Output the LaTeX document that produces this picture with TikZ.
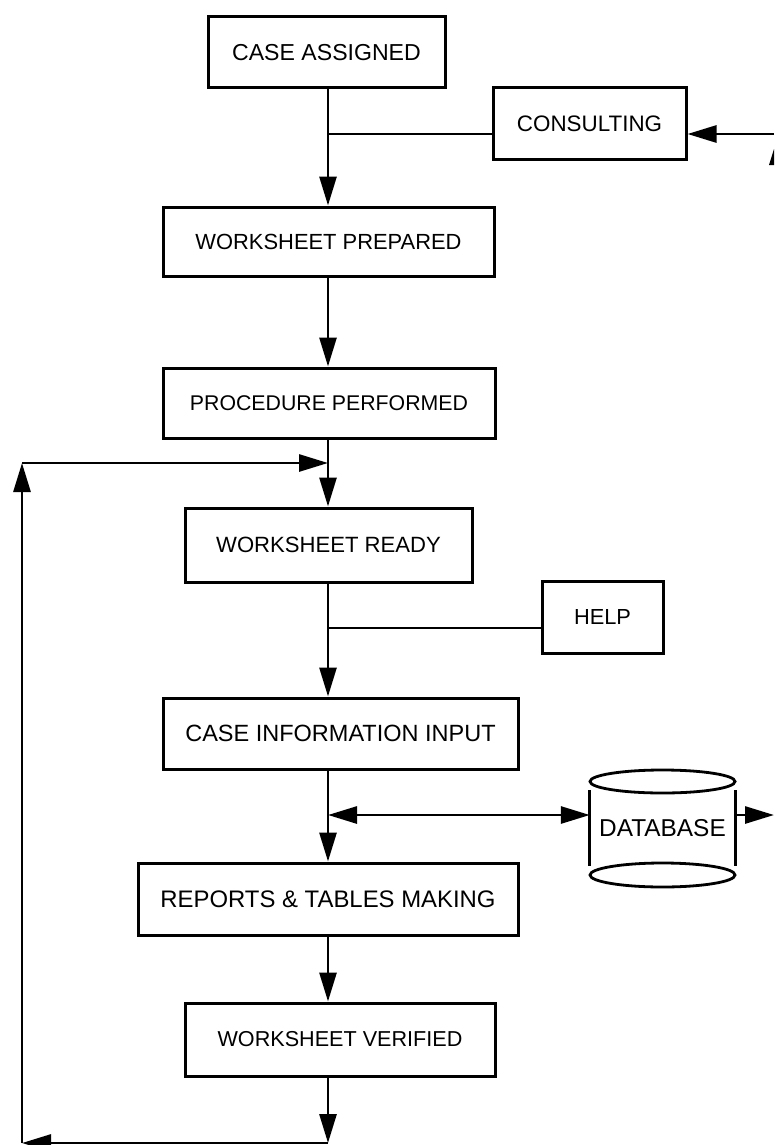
\documentclass[tikz,border=0pt]{standalone}
\usepackage{fontspec}
\setmainfont{Liberation Sans}
\usetikzlibrary{arrows.meta}
\newcommand\myfs[1]{\fontsize{#1pt}{#1pt}\selectfont}
\begin{document}
\begin{tikzpicture}[x=1pt,y=-1pt,
  box/.style={draw, line width=3pt, inner sep=0pt, align=center},
  conn/.style={line width=2.8pt},
  arr/.style={conn, -{Triangle[length=29pt,width=17pt]}},
  dbl/.style={conn, {Triangle[length=29pt,width=17pt]}-{Triangle[length=29pt,width=17pt]}},
  dbline/.style={line width=2.8pt}]
\useasboundingbox (0,0) rectangle (774,1145);
\clip (0,0) rectangle (774,1145);

\node[box, minimum width=237pt, minimum height=71pt] (A) at (326.5,52.5) {\myfs{23.1}CASE ASSIGNED};
\node[box, minimum width=193pt, minimum height=71pt] (C) at (589.5,123.5) {\myfs{22.4}CONSULTING};
\node[box, minimum width=331pt, minimum height=69pt] (P) at (328.5,241.5) {\myfs{21.9}WORKSHEET PREPARED};
\node[box, minimum width=332pt, minimum height=70pt] (Q) at (329,403) {\myfs{21.3}PROCEDURE PERFORMED};
\node[box, minimum width=287pt, minimum height=74pt] (R) at (328.5,545) {\myfs{22.1}WORKSHEET READY};
\node[box, minimum width=121pt, minimum height=72pt] (H) at (602.5,617) {\myfs{21.8}HELP};
\node[box, minimum width=355pt, minimum height=71pt] (I) at (340.5,733.5) {\myfs{23.5}CASE INFORMATION INPUT};
\node[box, minimum width=380pt, minimum height=72pt] (M) at (328,899) {\myfs{23.9}REPORTS \& TABLES MAKING};
\node[box, minimum width=310pt, minimum height=73pt] (V) at (340,1039.5) {\myfs{21.6}WORKSHEET VERIFIED};

% database cylinder
\node[inner sep=0pt, minimum width=145pt, minimum height=75pt] (D) at (662.5,828) {\myfs{24.4}DATABASE};
\draw[dbline] (D.north west) -- (D.south west);
\draw[dbline] (D.north east) -- (D.south east);
\draw[dbline] (662.5,781.5) ellipse [x radius=72.5pt, y radius=11.5pt];
\draw[dbline] (662.5,875) ellipse [x radius=72.5pt, y radius=12pt];

% junctions and free ends
\coordinate (j1) at (328,134);
\coordinate (e1) at (774,134);
\coordinate (j2) at (328,463);
\coordinate (j3) at (328,628);
\coordinate (j4) at (328,815);
\coordinate (e2) at (774,815);
\coordinate (b1) at (328,1143);
\coordinate (b2) at (22,1143);
\coordinate (b3) at (22,463);

\draw[arr] (A.south -| j1) -- (P.north -| j1);
\draw[conn] (C.west |- j1) -- (j1);
\draw[arr] (e1) -- (C.east |- e1);
\draw[arr] (P.south -| j1) -- (Q.north -| j1);
\draw[arr] (Q.south -| j1) -- (R.north -| j1);
\draw[arr] (R.south -| j1) -- (I.north -| j1);
\draw[conn] (H.west |- j3) -- (j3);
\draw[arr] (I.south -| j1) -- (M.north -| j1);
\draw[dbl] (j4) -- (D.west |- j4);
\draw[arr] (D.east |- j4) -- (e2);
\draw[arr] (M.south -| j1) -- (V.north -| j1);
\draw[arr] (V.south -| j1) -- (b1);
\draw[arr] (b1) -- (b2);
\draw[arr] (b2) -- (b3);
\draw[arr] (b3) -- (j2);

% cut-off mark at the right edge
\fill (769,165) -- (774,149) -- (774,165) -- cycle;
\end{tikzpicture}
\end{document}
